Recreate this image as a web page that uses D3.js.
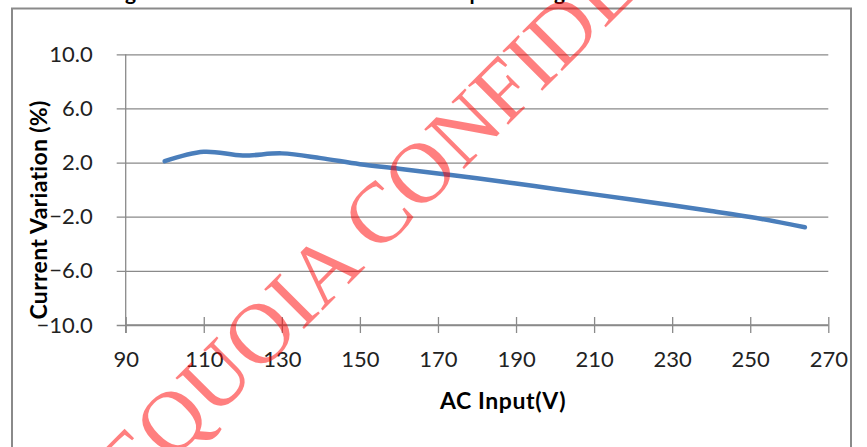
<!DOCTYPE html>
<html><head><meta charset="utf-8">
<script src="https://cdn.jsdelivr.net/npm/d3@7"></script>
<style>html,body{margin:0;padding:0;background:#fff;overflow:hidden}</style>
</head><body>
<script>
const voltages = [100,110,120,130,140,150,160,170,180,190,200,210,220,230,240,250,260,264];
const variation = [2.1,2.8,2.52,2.68,2.33,1.88,1.55,1.2,0.85,0.45,0.05,-0.35,-0.75,-1.15,-1.58,-2.02,-2.55,-2.78];
const xTicks = [90,110,130,150,170,190,210,230,250,270];
const yTicks = [-10,-6,-2,2,6,10];
const xTitle = "AC Input(V)";
const yTitle = "Current Variation (%)";
const chartTitle = "Figure 9: Line Regulation – Current Variation vs. AC Input Voltage at Full Load Io";
const watermark = "SEQUOIA CONFIDENTIAL";

const W = 867, H = 447;
const svg = d3.select("body").append("svg").attr("width", W).attr("height", H);
svg.append("rect").attr("width", W).attr("height", H).attr("fill", "#fff");

const x = d3.scaleLinear().domain([90, 270]).range([125.7, 828.3]);
const y = d3.scaleLinear().domain([-10, 10]).range([325, 54.3]);

const grey = "#8a8a8a";
const font = "Lato, 'Open Sans', sans-serif";

// title (cut off at top, only descenders visible)
svg.append("text").attr("x", -30).attr("y", 0).attr("font-family", font).attr("font-weight", "bold")
  .attr("font-size", 21).attr("fill", "#000").text(chartTitle);

// frame
svg.append("path").attr("d", `M12,${H+5} L12,8.5 L851,8.5 L851,${H+5}`)
  .attr("fill", "none").attr("stroke", grey).attr("stroke-width", 2);

// y gridlines via axis
const yAxis = d3.axisLeft(y).tickValues(yTicks).tickSize(-(828.3 - 125.7)).tickPadding(0).tickFormat(d => d3.format(".1f")(d));
const gy = svg.append("g").attr("transform", "translate(125.7,0)").call(yAxis);
gy.select(".domain").remove();
gy.selectAll(".tick line").attr("x1", -9).attr("stroke", grey).attr("stroke-width", 1.3);
gy.selectAll(".tick text").attr("x", -33).attr("font-family", font).attr("font-size", 22).attr("fill", "#222")
  .attr("text-anchor", "end");

// y axis line
svg.append("line").attr("x1", 125.7).attr("x2", 125.7).attr("y1", y(10)).attr("y2", 333)
  .attr("stroke", grey).attr("stroke-width", 1.3);

// x axis
const xAxis = d3.axisBottom(x).tickValues(xTicks).tickSize(8).tickPadding(0).tickFormat(d3.format("d"));
const gx = svg.append("g").attr("transform", `translate(0,${y(-10)})`).call(xAxis);
gx.select(".domain").attr("d", `M${x(90)},0H${x(270)}`).attr("stroke", grey).attr("stroke-width", 1.3);
gx.selectAll(".tick line").attr("y1", -8).attr("stroke", grey).attr("stroke-width", 1.3);
gx.selectAll(".tick text").attr("y", 35).attr("dy", "0.32em").attr("font-family", font).attr("font-size", 22).attr("fill", "#222");

// axis titles
svg.append("text").attr("x", 503).attr("y", 409).attr("text-anchor", "middle")
  .attr("font-family", font).attr("font-weight", "bold").attr("font-size", 23).attr("letter-spacing", 0.6)
  .attr("fill", "#000").text(xTitle);
svg.append("text").attr("transform", "translate(47,210) rotate(-90)").attr("text-anchor", "middle")
  .attr("font-family", font).attr("font-weight", "bold").attr("font-size", 23).attr("letter-spacing", 0.3)
  .attr("fill", "#000").text(yTitle);

// series
const data = voltages.map((v, i) => ({v, p: variation[i]}));
const line = d3.line().x(d => x(d.v)).y(d => y(d.p)).curve(d3.curveCatmullRom.alpha(0.5));
svg.append("path").datum(data).attr("d", line).attr("fill", "none")
  .attr("stroke", "#4a7ebb").attr("stroke-width", 4.5).attr("stroke-linecap", "round").attr("stroke-linejoin", "round");

// watermark
svg.append("text").attr("transform", "translate(99,534) rotate(-45)")
  .attr("font-family", "'Liberation Serif', 'DejaVu Serif', serif").attr("font-size", 86)
  .attr("fill", "#ff0000").attr("fill-opacity", 0.5).text(watermark);
</script>
</body></html>
